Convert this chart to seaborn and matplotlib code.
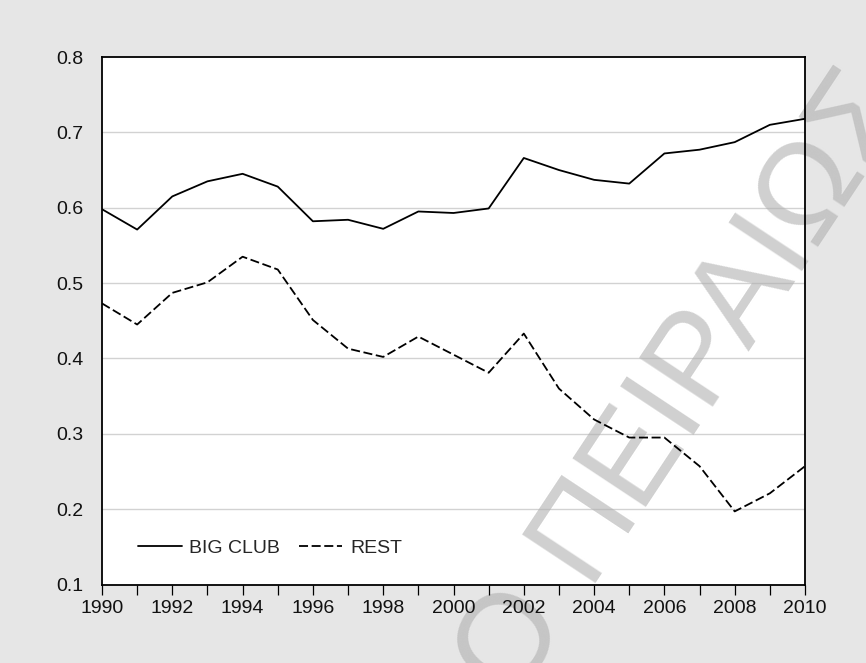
import matplotlib
matplotlib.use("Agg")
import matplotlib.pyplot as plt
import seaborn as sns
import pandas as pd
from matplotlib.ticker import MultipleLocator, FixedLocator
from matplotlib.lines import Line2D

years = list(range(1990, 2011))
big_club = [0.598, 0.571, 0.615, 0.635, 0.645, 0.628, 0.582, 0.584, 0.572, 0.595,
            0.593, 0.599, 0.666, 0.650, 0.637, 0.632, 0.672, 0.677, 0.687, 0.710, 0.718]
rest = [0.473, 0.445, 0.487, 0.501, 0.535, 0.518, 0.451, 0.413, 0.402, 0.429,
        0.405, 0.381, 0.433, 0.360, 0.319, 0.295, 0.295, 0.257, 0.197, 0.221, 0.257]
series_names = ["BIG CLUB", "REST"]
y_ticks = [0.1, 0.2, 0.3, 0.4, 0.5, 0.6, 0.7, 0.8]
x_ticks = list(range(1990, 2011, 2))

sns.set_theme(style="white")
plt.rcParams["font.family"] = ["Liberation Sans", "DejaVu Sans"]

df = pd.DataFrame({
    "year": years * 2,
    "value": big_club + rest,
    "series": [series_names[0]] * len(years) + [series_names[1]] * len(years),
})

fig = plt.figure(figsize=(8.66, 6.63), dpi=100, facecolor="#e6e6e6")
ax = fig.add_axes([102 / 866, 1 - 584.5 / 663, 703 / 866, (584.5 - 57) / 663])
ax.set_facecolor("white")

sns.lineplot(data=df, x="year", y="value", style="series",
             dashes={"BIG CLUB": "", "REST": (5, 2)}, color="black",
             linewidth=1.3, ax=ax, zorder=2, legend=False)

ax.set_xlim(1990, 2010)
ax.set_ylim(0.1, 0.8)
ax.set_xlabel("")
ax.set_ylabel("")
ax.set_axisbelow(False)

ax.xaxis.set_major_locator(FixedLocator(x_ticks))
ax.xaxis.set_minor_locator(MultipleLocator(1))
ax.yaxis.set_major_locator(FixedLocator(y_ticks))
ax.set_xticklabels([str(y) for y in x_ticks])
ax.set_yticklabels([f"{v:.1f}" for v in y_ticks])

ax.tick_params(axis="x", which="both", direction="out", length=7.5, width=0.9,
               color="black", bottom=True, top=False, labelsize=14, pad=4,
               labelcolor="#111111")
ax.tick_params(axis="y", which="both", length=0, labelsize=14, pad=13.5,
               labelcolor="#111111")

for y in y_ticks[1:-1]:
    ax.axhline(y, color="#d2d2d2", linewidth=1.0, zorder=0.5)

for sp in ax.spines.values():
    sp.set_visible(True)
    sp.set_color("black")
    sp.set_linewidth(1.3)

# legend
handles = [Line2D([], [], color="black", linewidth=1.3),
           Line2D([], [], color="black", linewidth=1.3, linestyle=(0, (5, 2)))]
ax.legend(handles, series_names, loc="center left",
          bbox_to_anchor=(0.051, 0.069), frameon=False, ncol=2,
          fontsize=14, handlelength=2.25, handletextpad=0.4,
          columnspacing=0.95, borderpad=0, borderaxespad=0)

# watermark
wm = dict(fontsize=92, color="#b0b0b0", alpha=0.6, rotation=56.5,
          rotation_mode="anchor", va="baseline", transform=fig.transFigure,
          clip_on=False, zorder=1)
ax.text(585 / 866, 1 - 583 / 663, "ΠΕΙΡΑΙΩΣ", ha="left", **wm)
ax.text(565 / 866, 1 - 612 / 663, "ΠΑΝΕΠΙΣΤΗΜΙΟ", ha="right", **wm)

fig.savefig("out.png", dpi=100, facecolor=fig.get_facecolor())
